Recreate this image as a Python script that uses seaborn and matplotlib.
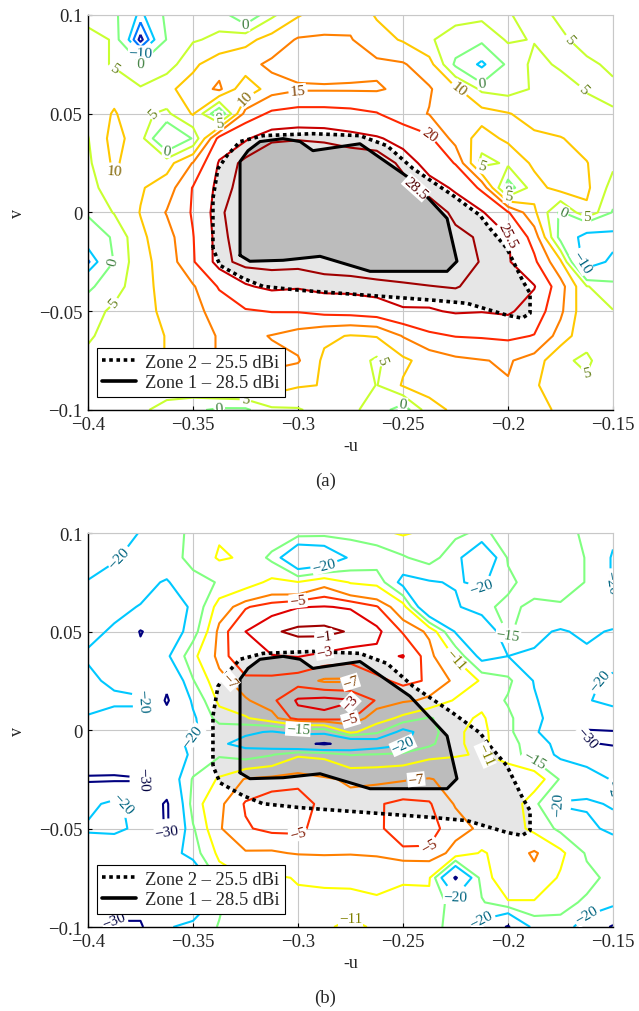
import matplotlib
matplotlib.use("Agg")
import matplotlib.pyplot as plt
from matplotlib.lines import Line2D
from matplotlib.colors import to_rgb
import numpy as np
import seaborn as sns

# ---------------- data ----------------
U_GRID = [-0.4, -0.3875, -0.375, -0.3625, -0.35, -0.3375, -0.325, -0.3125, -0.3, -0.2875,
          -0.275, -0.2625, -0.25, -0.2375, -0.225, -0.2125, -0.2, -0.1875, -0.175, -0.1625, -0.15]
V_GRID_A = [0.1, 0.0875, 0.075, 0.0625, 0.05, 0.0375, 0.025, 0.0125, 0.0, -0.0125,
            -0.025, -0.0375, -0.05, -0.0625, -0.075, -0.0875, -0.1]
V_GRID_B = [0.1, 0.0875, 0.075, 0.0625, 0.05, 0.0375, 0.025, 0.015, 0.006, -0.001,
            -0.007, -0.0125, -0.025, -0.0375, -0.05, -0.0625, -0.075, -0.0875, -0.1]

# panel (a): co-polar gain (dBi), rows follow V_GRID_A, columns follow U_GRID
GAIN_A = [
    [3, 2, -12, 2, 3, 3, -5, 4, 9.5, 13, 13.5, 9.5, 7, 7, 6.5, 6, 5.2, 4, 5.5, 6.5, 6.5],
    [7, 4.5, -22, 0.5, 4.5, 6, 8.5, 12, 15.5, 15.5, 15.3, 12, 9.5, 5.5, 3, 2, 5.5, 4.8, 4.5, 6, 6],
    [7, 4.5, 0.8, 2.5, 9, 13, 13.5, 16, 16.5, 17, 16.5, 16, 15.5, 12, -1, -12, 2, 6, 4.5, 4.5, 5.5],
    [7, 8, 5.5, 9, 12, 16, 6, 13, 14.5, 14.5, 14.5, 14.5, 16, 15.5, 11, 4, 3, 5.5, 6.5, 4.8, 4.5],
    [6.5, 10.5, 6, 4, 10.5, -5, 17, 21, 22, 22, 21.5, 20.3, 17, 14.8, 13, 12, 10.3, 8, 6, 6, 5.2],
    [4.8, 12, 7, -8, 0.5, 22, 25, 28, 28.3, 28, 27, 26, 24, 21, 13, 8, 11, 11, 10.3, 8, 6],
    [4, 11, 6, 8, 15.3, 26, 29.5, 31, 31, 31, 31, 31, 27.5, 24, 19.7, 3, 6, 11, 11.5, 10.2, 6],
    [3, 8, 9.5, 12.5, 20.3, 27, 30, 31, 31, 31, 31, 31, 30, 27, 25, 19, -3, 8, 12, 11, 3],
    [1, 5.3, 10.2, 15.3, 20.5, 28, 30.5, 31, 31, 31, 31, 31, 31, 31, 27.5, 26, 20.5, 11, -1, 9, -0.5],
    [-5, 1, 9, 13, 19.8, 27.5, 30.5, 31, 31, 31, 31, 31, 31, 31, 29.5, 28, 25.8, 18, -2, -14, -13],
    [-16, 0.5, 8.5, 12, 19.5, 27.5, 29.5, 29.5, 29.5, 30, 30.5, 31, 31, 31, 30, 28.3, 26, 21, 11, -15, -8],
    [-1, 3, 8, 12, 14.5, 20.5, 25, 26.5, 26, 27, 27, 27.5, 28, 28.4, 28.7, 27.5, 27, 25.8, 17, 5.3, 2],
    [3, 6, 8.5, 11, 13.5, 17, 19.5, 20.2, 20.3, 21.5, 22, 23, 25, 25, 26, 25.7, 26.3, 23, 16, 6, 5.2],
    [4.5, 6.5, 8, 10.2, 12, 15.5, 16, 14.8, 13, 11, 9.7, 10.3, 15.3, 19, 20.2, 20.5, 21, 19.8, 13, 6, 6],
    [6, 7, 8, 10.2, 12, 15.5, 16, 16, 15.5, 9, 8, 4, 9, 12, 14, 14.8, 15.5, 13, 5.5, 4.5, 7],
    [6, 6, 6.5, 8, 9, 12, 13, 13, 10.5, 9.8, 9, 4.8, 10.5, 12, 13, 14, 14.7, 11, 5.5, 5.5, 7],
    [6, 6, 6, 3, 1, -1, -1, 4, 4.5, 7, 6, 3, -3, 8, 11, 13, 14, 12, 9, 7, 7],
]

# panel (b): cross-polar level (dB), rows follow V_GRID_B, columns follow U_GRID
GAIN_B = [
    [-27, -23, -19.7, -17, -14, -11.5, -11.3, -12, -13, -13.5, -13.5, -12, -10.5, -12, -14, -16, -13, -12.5, -13, -16, -19],
    [-29, -20.5, -18, -16.5, -14, -10.5, -11.5, -16, -28, -26, -19, -18, -15.5, -13, -18, -27, -14.5, -12.5, -13, -15.2, -20.5],
    [-19, -18, -18.5, -20.5, -16, -14.8, -13, -10, -10.8, -8, -11.3, -12, -22, -20.5, -19.5, -21, -16, -13, -13, -15.2, -20.5],
    [-19, -19, -20.2, -24, -19, -9, -5.2, -4, -3.1, -2.9, -3.2, -4.8, -9, -28, -21, -16, -14, -16, -15.5, -15.2, -15.5],
    [-19, -20.5, -30.5, -25, -17, -6, -3, -1.3, -0.5, -0.4, -1.2, -2.5, -5.2, -7.5, -20.5, -28, -14, -19, -20.5, -19, -20.5],
    [-20.5, -23, -28, -21, -12, -6, -3.2, -3.1, -2.9, -3.5, -4, -3.5, -2.9, -6, -11.5, -22, -20, -20.5, -23, -21, -22],
    [-19, -21, -23, -28, -15.3, -8, -5.5, -5.5, -6, -7.3, -7.3, -5.5, -4.5, -5.2, -7.5, -11.5, -14, -20.3, -28, -21, -19],
    [-18, -19, -19, -31, -19, -10, -7.3, -5.5, -2.7, -2.3, -2.8, -5.2, -6.5, -7.5, -11.5, -12, -15.5, -19.5, -23, -20.5, -18],
    [-20.5, -22, -22, -27, -21, -13, -11.5, -8, -3.8, -3.6, -4.5, -9, -12, -15.5, -12, -10.5, -14, -19, -22, -25, -24],
    [-21.5, -22.5, -22, -24, -20.5, -18, -19, -20.5, -18, -18, -10, -14, -22, -17, -11.5, -10, -14, -19, -25, -31, -30.5],
    [-20.5, -20.5, -20.5, -22, -19, -19, -22, -24, -28, -31, -27, -24, -21, -16, -11.5, -10, -13.5, -17, -22, -29, -31],
    [-24, -25, -23, -22, -19.5, -15.5, -17, -15.3, -11.5, -12, -15.2, -14.7, -14, -12, -11.3, -10.7, -13, -17, -21, -22, -25],
    [-31, -31, -30.5, -25, -14.5, -10.5, -6.7, -6, -5.5, -6.5, -7.5, -7.5, -7.2, -6.8, -8, -8, -7.5, -8, -15.5, -18, -20.3],
    [-22, -18, -24, -31, -13, -7.5, -4.8, -4, -4.2, -5.5, -6, -5.2, -4.5, -4.8, -7.2, -7.3, -7.5, -14, -20.5, -20.5, -19.7],
    [-19, -18, -22, -31, -15.5, -7.2, -5.2, -4.5, -4.5, -6, -6.2, -5.3, -4.2, -4.3, -6, -7.5, -9, -12, -16, -19, -21],
    [-25, -27, -27, -24, -17, -10, -7.2, -7.3, -6.8, -6.7, -6.8, -6.5, -5.3, -5.3, -8, -11.5, -9, -6.5, -10, -15.5, -17],
    [-26, -28, -29, -25, -28, -13, -11, -11.5, -10.8, -10.3, -10.2, -10.3, -10.8, -10.5, -31, -13, -8, -8, -11.5, -14, -16],
    [-24, -27, -27, -22, -29, -15.5, -12.5, -12, -11.5, -12, -12, -11.3, -11.5, -12, -17, -15.5, -11.3, -11.3, -14, -15.5, -18],
    [-24, -31, -31, -21, -17, -14.8, -12.5, -12, -12, -11.3, -10.5, -11.3, -12, -14, -16, -22, -31, -18, -16, -24, -31],
]

LEVELS_A = [-20, -15, -10, 0, 5, 10, 15, 20, 25.5, 28.5]
LEVEL_TEXT_A = ["\u221220", "\u221215", "\u221210", "0", "5", "10", "15", "20", "25.5", "28.5"]
LEVELS_B = [-30, -20, -15, -11, -7, -5, -3, -1]
LEVEL_TEXT_B = ["\u221230", "\u221220", "\u221215", "\u221211", "\u22127", "\u22125", "\u22123", "\u22121"]

# coverage zones (u, v)
ZONE1_U = [-0.3276, -0.3276, -0.3238, -0.3181, -0.3071, -0.2990, -0.2929, -0.2705, -0.2467,
           -0.2290, -0.2243, -0.2290, -0.2657, -0.2895, -0.3071, -0.3229]
ZONE1_V = [-0.0217, 0.0258, 0.0313, 0.0359, 0.0374, 0.0359, 0.0313, 0.0348, 0.0172,
           -0.0030, -0.0247, -0.0298, -0.0298, -0.0222, -0.0242, -0.0247]
ZONE2_U = [-0.3405, -0.3405, -0.3381, -0.3338, -0.3276, -0.3167, -0.2929, -0.2705, -0.2576,
           -0.2452, -0.2262, -0.2133, -0.2086, -0.2005, -0.1929, -0.1895, -0.1895, -0.1933,
           -0.2005, -0.2195, -0.2357, -0.2671, -0.2990, -0.3167, -0.3262, -0.3371]
ZONE2_V = [-0.0182, 0.0071, 0.0222, 0.0288, 0.0359, 0.0389, 0.0399, 0.0389, 0.0338,
           0.0222, 0.0086, -0.0015, -0.0081, -0.0182, -0.0348, -0.0409, -0.0510, -0.0535,
           -0.0520, -0.0460, -0.0444, -0.0419, -0.0394, -0.0374, -0.0333, -0.0268]
ZONE_LABELS = ["Zone 2 \u2013 25.5 dBi", "Zone 1 \u2013 28.5 dBi"]

X_TICKS = [-0.4, -0.35, -0.3, -0.25, -0.2, -0.15]
X_TICKLABELS = ["\u22120.4", "\u22120.35", "\u22120.3", "\u22120.25", "\u22120.2", "\u22120.15"]
Y_TICKS = [-0.1, -0.05, 0.0, 0.05, 0.1]
Y_TICKLABELS = ["\u22120.1", "\u22120.05", "0", "0.05", "0.1"]

# ---------------- style ----------------
COLORS_A = ["#10109a", "#0078ff", "#00c8ff", "#80ff80", "#c8ff30", "#ffc800",
            "#ff8000", "#ff2800", "#c80000", "#a00000"]
COLORS_B = ["#000080", "#00c8ff", "#80ff80", "#ffff00", "#ff8000", "#ff3000",
            "#e00000", "#a00000"]

sns.set_theme(style="whitegrid")
plt.rcParams["font.family"] = ["Liberation Serif", "DejaVu Serif"]


def darker(c, f=0.5):
    r, g, b = to_rgb(c)
    return (r * f, g * f, b * f)


def draw_panel(ax, v_grid, gain, levels, level_text, colors):
    ax.set_facecolor("white")
    ax.set_axisbelow(True)
    ax.grid(True, color="#c8c8c8", lw=0.8)
    ax.fill(ZONE2_U, ZONE2_V, facecolor="#e6e6e6", edgecolor="none", zorder=1)
    ax.fill(ZONE1_U, ZONE1_V, facecolor="#bcbcbc", edgecolor="none", zorder=1.1)
    uu, vv = np.meshgrid(U_GRID, v_grid)
    cs = ax.contour(uu, vv, np.array(gain), levels=levels, colors=colors,
                    linewidths=1.5, zorder=2)
    texts = ax.clabel(cs, levels, fmt=dict(zip(levels, level_text)), fontsize=11,
                      inline=True, inline_spacing=2,
                      colors=[darker(c) for c in colors])
    for t in texts:
        t.set_bbox(dict(boxstyle="square,pad=0.05", facecolor="white", edgecolor="none"))
        t.set_zorder(5)
    ax.plot(ZONE2_U + ZONE2_U[:1], ZONE2_V + ZONE2_V[:1], color="black", lw=2.6,
            ls=(0, (1.0, 1.0)), dash_capstyle="butt", zorder=3)
    ax.plot(ZONE1_U + ZONE1_U[:1], ZONE1_V + ZONE1_V[:1], color="black", lw=2.2,
            zorder=3)
    ax.set_xlim(-0.4, -0.15)
    ax.set_ylim(-0.1, 0.1)
    ax.set_xticks(X_TICKS)
    ax.set_xticklabels(X_TICKLABELS)
    ax.set_yticks(Y_TICKS)
    ax.set_yticklabels(Y_TICKLABELS)
    ax.tick_params(axis="both", labelsize=13.5, direction="in", length=3, width=0.8,
                   color="black", pad=4, left=True, bottom=True)
    for side in ("left", "bottom"):
        ax.spines[side].set_color("black")
        ax.spines[side].set_linewidth(1.0)
    for side in ("top", "right"):
        ax.spines[side].set_color("#c8c8c8")
        ax.spines[side].set_linewidth(0.8)
    ax.set_xlabel("-u", fontsize=13, va="center")
    ax.xaxis.set_label_coords(0.5, -0.091)
    ax.set_ylabel("v", fontsize=13, va="center")
    ax.yaxis.set_label_coords(-0.135, 0.5)
    handles = [Line2D([0], [0], color="black", lw=2.6, ls=(0, (1.0, 1.0)), dash_capstyle="butt"),
               Line2D([0], [0], color="black", lw=2.6)]
    leg = ax.legend(handles, ZONE_LABELS, loc="lower left", bbox_to_anchor=(0.017, 0.033),
                    borderaxespad=0, fontsize=13.3, handlelength=1.8, handletextpad=0.5,
                    borderpad=0.3, labelspacing=0.2, fancybox=False, framealpha=1,
                    edgecolor="black")
    leg.get_frame().set_linewidth(0.8)
    leg.set_zorder(6)


fig = plt.figure(figsize=(6.39, 10.12), dpi=100)
ax_a = fig.add_axes([0.1377, 0.5939, 0.8216, 0.3903])
ax_b = fig.add_axes([0.1377, 0.0830, 0.8216, 0.3893])
draw_panel(ax_a, V_GRID_A, GAIN_A, LEVELS_A, LEVEL_TEXT_A, COLORS_A)
draw_panel(ax_b, V_GRID_B, GAIN_B, LEVELS_B, LEVEL_TEXT_B, COLORS_B)
fig.text(0.509, 1 - 481 / 1012, "(a)", ha="center", va="center", fontsize=13.5)
fig.text(0.509, 1 - 998 / 1012, "(b)", ha="center", va="center", fontsize=13.5)
fig.savefig("out.png", dpi=100)
